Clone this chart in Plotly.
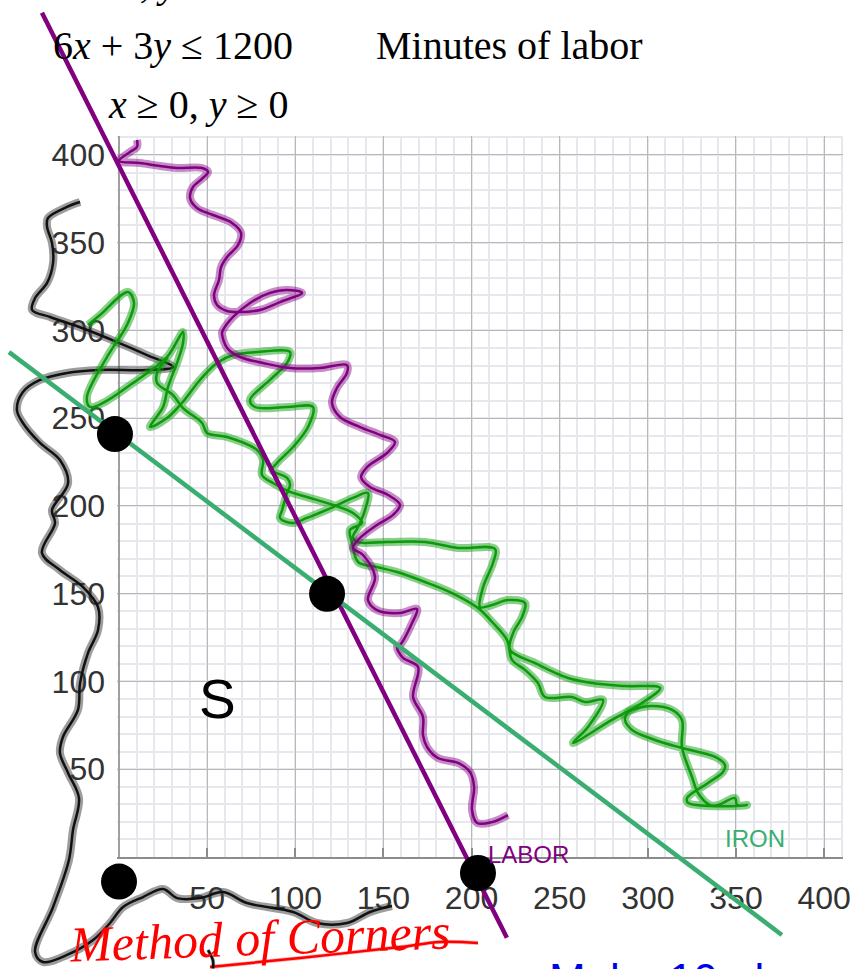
import plotly.graph_objects as go

tick_vals = [50, 100, 150, 200, 250, 300, 350, 400]
tick_text = ["50", "100", "150", "200", "250", "300", "350", "400"]

labor_line_x = [-43.7, 220.0]
labor_line_y = [481.0, -46.0]
iron_line_x = [-62.4, 376.0]
iron_line_y = [287.7, -44.4]

corner_x = [-2.3, 118.0, 0.0, 203.6]
corner_y = [241.0, 150.0, -14.0, -9.1]

purple_x = [10.2,10.2,6.2,0,11.9,23.3,32.9,47.1,50.5,47.6,42.0,40.3,44.2,53.3,64.1,69.2,67.5,61.3,57.9,56.7,53.9,55.6,61.3,68.6,80.0,91.3,103.8,95.3,85.6,74.3,64.7,59.0,58.4,61.3,68.6,81.7,97.0,114.0,129.3,129.3,123.6,120.8,125.3,136.7,148.0,156.5,152.0,140.7,137.3,142.4,152.6,159.4,155.4,146.3,136.7,132.7,138.4,145.2,141.2,146.3,159.4,169.0,166.2,159.4,157.7,161.1,169.6,166.8,172.4,172.4,174.7,180.9,192.3,199.1,201.4,200.2,203.1,211.6,220.6]
purple_y = [408.5,404.6,401.7,396.6,395.4,393.7,392.6,392.6,390.3,386.9,381.8,375.5,369.8,365.8,361.3,355.6,348.7,341.9,336.2,328.8,320.2,314.5,311.1,310.5,311.7,316.2,321.4,323.1,321.4,315.7,307.7,300.3,298.6,290.0,284.9,281.5,278.6,278.6,280.3,275.8,267.2,258.7,250.7,245.0,240.5,236.5,230.2,222.2,216.5,210.8,206.3,200.6,194.9,189.2,181.8,176.1,172.1,159.5,146.4,140.7,139.0,141.3,133.3,120.8,119.7,113.4,108.3,91.2,79.8,69.5,62.7,56.4,53.6,48.4,39.9,26.8,19.4,19.9,23.9]

green_a_x = [-17.6,-10.8,5.1,8.5,4.5,-6.8,-18.2,-16.4,-9.1,7.9,27.2,36.3,36.3,33.5,27.8,25.0,17.6,27.2,35.7,45.9,55.6,64.7,78.3,97.0,95.3,85.6,74.3,77.1,95.3,110.0,107.2,98.7,89.6,86.8,95.3,97.0,95.3,92.5,91.3,98.1,106.6,121.4,132.7,141.2,139.5,135.6,132.7,135.0,152.0,173.6,192.3,213.3,212.1,206.5,204.8,211.6,220.6,230.3,228.6,223.5,221.8,236.0,254.7,268.3,287.0,306.9,296.6,279.6,257.5,266.0,274.5,264.3,256.9,241.6,237.6,230.3,222.9,220.1,211.6,203.6,188.9,173.6,157.7,146.3,135.6,132.2,131.0,137.8,132.7,121.4,106.6,97.0,87.3,81.1,81.7,78.3,61.3,49.9,47.1,36.3,30.6,21.6,21.6,27.8]
green_a_y = [303.1,308.8,321.9,315.7,303.1,284.9,262.1,256.4,258.7,270.1,284.9,299.1,292.9,283.2,267.8,256.4,245.0,250.1,258.7,271.8,281.5,286.0,287.7,287.7,281.5,271.8,260.4,256.4,256.4,256.4,245.0,233.6,224.5,220.5,216.0,212.0,207.4,197.7,193.2,190.3,193.2,199.4,204.6,207.4,197.7,188.0,182.3,179.5,179.5,179.5,176.1,175.5,167.5,153.8,142.4,143.6,146.4,144.7,136.8,127.6,118.0,110.5,102.0,99.1,97.4,96.3,87.8,78.1,65.0,74.1,89.5,88.3,91.2,91.2,99.1,106.6,112.3,123.6,133.9,141.9,150.4,156.7,162.4,165.2,168.1,178.9,186.3,190.3,196.0,200.6,205.1,208.0,213.1,217.7,226.2,231.9,239.3,241.6,247.3,255.8,263.2,270.1,275.8,284.9]

green_b_x = [288.7,291.0,302.3,313.7,319.3,319.3,325.0,328.4,335.2,339.8,349.4,350.5,356.2,350.5,335.2,322.7,322.2,334.1,342.6,343.7,338.1,319.3,304.0,291.0,287.0,288.7]
green_b_y = [82.6,83.8,86.0,83.8,78.1,62.7,45.6,36.5,29.6,29.6,33.6,29.6,29.6,29.1,29.1,30.8,33.6,42.2,48.4,52.4,57.0,62.1,66.7,72.4,78.1,82.6]

black_x = [-22.1,-29.5,-40.3,-40.8,-38.0,-37.4,-40.8,-47.6,-49.3,-39.1,-21.0,-1.1,15.9,30.6,15.9,-10.8,-29.5,-44.8,-54.5,-57.9,-54.5,-44.8,-33.5,-28.9,-38.0,-36.3,-43.7,-33.5,-20.4,-11.9,-11.9,-17.6,-22.1,-23.3,-31.8,-33.5,-28.9,-22.7,-26.1,-28.4,-37.4,-47.6,-43.1,-29.5,-14.7,-5.1,2.3,13.6,25.0,32.9,45.9,59.0,72.6,98.7,112.3,129.3,142.4,154.8]
black_y = [373.2,370.4,364.1,359.0,349.9,338.5,327.1,318.5,311.7,307.7,301.4,293.4,286.0,279.2,277.5,277.5,275.8,271.8,264.9,254.7,247.3,235.9,226.2,213.1,197.7,190.3,173.2,163.5,153.8,142.4,129.3,116.2,99.1,83.8,68.4,59.3,47.9,33.6,15.4,-1.7,-28.5,-54.1,-59.8,-55.8,-47.3,-37.6,-28.5,-22.8,-18.2,-23.4,-23.4,-19.9,-26.2,-31.3,-37.6,-37.6,-31.3,-27.9]

tick_mark_x = [50.5, 53.3, 53.3]
tick_mark_y = [-53.0, -59.0, -63.5]

underline_x = [51.6, 102.7, 159.4, 182.1, 203.6]
underline_y = [-62.7, -57.5, -51.3, -48.4, -49.0]

PURPLE = "#800080"
IRON = "#3aae70"

fig = go.Figure()

# Keeps the grid subplot alive; the visible marks sit on the full-page axes.
fig.add_trace(go.Scatter(x=tick_vals, y=tick_vals, mode="lines", showlegend=False,
                         hoverinfo="skip", line=dict(color="rgba(0,0,0,0)", width=0)))


def ink(x, y, core, halo, core_w=2.5, halo_w=8):
    for color, w in ((halo, halo_w), (core, core_w)):
        fig.add_trace(go.Scatter(
            x=x, y=y, xaxis="x2", yaxis="y2", mode="lines", showlegend=False,
            hoverinfo="skip",
            line=dict(color=color, width=w, shape="spline", smoothing=1.0),
        ))


def straight(x, y, color):
    fig.add_trace(go.Scatter(x=x, y=y, xaxis="x2", yaxis="y2", mode="lines",
                             showlegend=False, hoverinfo="skip",
                             line=dict(color=color, width=4.5)))


ink(black_x, black_y, "#111111", "rgba(60,60,60,0.5)")
ink(green_a_x, green_a_y, "#0a9a0a", "rgba(20,160,20,0.5)")
ink(green_b_x, green_b_y, "#0a9a0a", "rgba(20,160,20,0.5)")
ink(purple_x, purple_y, "#800080", "rgba(128,0,128,0.45)")
ink(underline_x, underline_y, "#ff0000", "rgba(255,0,0,0.3)", 2.5, 4)
ink(tick_mark_x, tick_mark_y, "#111111", "rgba(60,60,60,0.4)", 2.5, 4)
straight(labor_line_x, labor_line_y, PURPLE)
straight(iron_line_x, iron_line_y, IRON)
fig.add_trace(go.Scatter(x=corner_x, y=corner_y, xaxis="x2", yaxis="y2", mode="markers",
                         showlegend=False, hoverinfo="skip",
                         marker=dict(color="black", size=36)))

serif = "Liberation Serif, Times New Roman, serif"
sans = "Liberation Sans, Arial, sans-serif"


def note(text, x, y, size, color="black", family=serif, xanchor="left", yanchor="middle", angle=0, yshift=0):
    fig.add_annotation(text=text, x=x, y=y, xref="x2", yref="y2", showarrow=False,
                       xanchor=xanchor, yanchor=yanchor, textangle=angle, borderpad=0,
                       yshift=yshift, font=dict(size=size, color=color, family=family))


note("<i>x</i>, <i>y</i> ≤", 51.6, 488.0, 40, xanchor="right", yshift=17)
note("6<i>x</i> + 3<i>y</i> ≤ 1200", -38.0, 461.0, 40, yshift=2)
note("Minutes of labor", 145.2, 461.0, 40, yshift=2)
note("<i>x</i> ≥ 0, <i>y</i> ≥ 0", -6.8, 428.5, 40)
note("S", 55.6, 90.0, 55, family=sans, xanchor="center")
note("LABOR", 208.7, 1.7, 24, color=PURPLE, family=sans)
note("IRON", 343.2, 10.8, 24, color=IRON, family=sans)
note("<i>Method of Corners</i>", 80.0, -46.0, 50, color="#ff0000", xanchor="center", angle=-2)
note("Make 10 also", 243.3, -55.0, 44, color="#0000ee", family=sans, yanchor="top")

W, H = 850, 969
grid = dict(
    tickmode="array", tickvals=tick_vals, ticktext=tick_text,
    showgrid=True, gridcolor="#b8b8b8", gridwidth=1.2,
    minor=dict(dtick=10, tick0=0, showgrid=True, gridcolor="#e6e8ee", gridwidth=1.5, ticks=""),
    tickfont=dict(size=32, color="#333333", family=sans),
    zeroline=True, fixedrange=True, ticklabeloverflow="allow", automargin=False,
)
hidden = dict(visible=False, fixedrange=True, showgrid=False, zeroline=False, automargin=False)
fig.update_layout(
    width=W, height=H, autosize=False, showlegend=False,
    margin=dict(l=0, r=0, t=0, b=0, pad=0),
    paper_bgcolor="white", plot_bgcolor="rgba(0,0,0,0)",
    xaxis=dict(grid, domain=[117 / W, 843 / W], range=[-1.13, 410.7],
               zerolinecolor="#a0a0a0", zerolinewidth=2,
               showline=True, linecolor="#8c8c8c", linewidth=2,
               ticks="inside", ticklen=9, tickcolor="#8c8c8c", tickwidth=1.5,
               ticklabelstandoff=12),
    yaxis=dict(grid, domain=[(H - 857) / H, (H - 136) / H], range=[0, 410.8],
               zerolinecolor="#8c8c8c", zerolinewidth=2,
               ticks="", ticklabelstandoff=11),
    xaxis2=dict(hidden, domain=[0, 1], range=[-67.5, 414.6], anchor="y2"),
    yaxis2=dict(hidden, domain=[0, 1], range=[-63.8, 488.3], anchor="x2"),
)

fig.write_html(
    "out.html",
    config={"displayModeBar": False},
    post_script="document.body.style.margin='0';document.documentElement.style.overflow='hidden';",
)
